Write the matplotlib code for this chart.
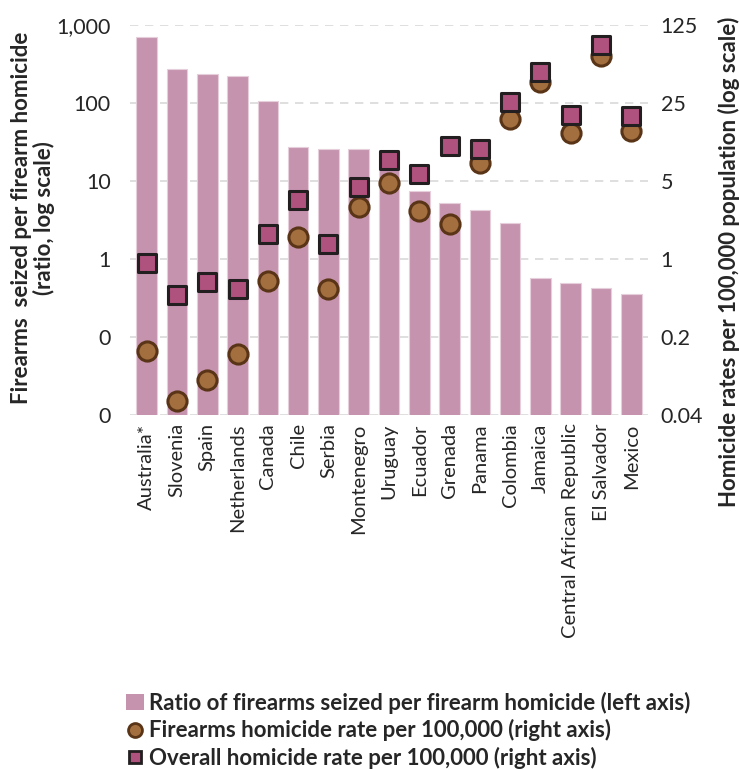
import matplotlib
matplotlib.use("Agg")
import matplotlib.pyplot as plt
from matplotlib.patches import Patch
from matplotlib.lines import Line2D
from matplotlib.ticker import FixedLocator, FixedFormatter, NullLocator

plt.rcParams["font.family"] = ["Lato", "DejaVu Sans"]

COUNTRIES = ["Australia*", "Slovenia", "Spain", "Netherlands", "Canada", "Chile",
             "Serbia", "Montenegro", "Uruguay", "Ecuador", "Grenada", "Panama",
             "Colombia", "Jamaica", "Central African Republic", "El Salvador", "Mexico"]

# firearms seized per firearm homicide (left axis)
SEIZED_RATIO = [695, 270, 234, 222, 107, 27, 26, 26, 23.8, 7.4, 5.3, 4.2,
                2.9, 0.575, 0.49, 0.42, 0.356]

# homicide rates per 100,000 (right axis)
FIREARM_RATE = [0.151, 0.053, 0.082, 0.14, 0.64, 1.58, 0.54, 2.94, 4.8, 2.71,
                2.05, 7.3, 18, 38.7, 13.6, 65.9, 14]
OVERALL_RATE = [0.93, 0.48, 0.62, 0.54, 1.67, 3.4, 1.37, 4.4, 7.7, 5.8,
                10.3, 9.7, 25.5, 47, 19.6, 82.7, 19]

LEFT_TICKS = [0.01, 0.1, 1, 10, 100, 1000]
LEFT_LABELS = ["0", "0", "1", "10", "100", "1,000"]
RIGHT_TICKS = [0.04, 0.2, 1, 5, 25, 125]
RIGHT_LABELS = ["0.04", "0.2", "1", "5", "25", "125"]

BAR_COLOR = "#C693AF"
CIRCLE_FACE = "#A36F3F"
CIRCLE_EDGE = "#5A3416"
SQUARE_FACE = "#B0527E"
SQUARE_EDGE = "#231F20"
TEXT_COLOR = "#262626"

fig = plt.figure(figsize=(7.4, 7.69), dpi=100)
ax = fig.add_axes([0.1757, 0.4603, 0.7, 0.5072])
x = list(range(len(COUNTRIES)))

ax.bar(x, SEIZED_RATIO, width=0.68, color=BAR_COLOR, edgecolor="#E6CFDB",
       linewidth=0.8, zorder=2)
ax.set_yscale("log")
ax.set_ylim(0.01, 1000)
ax.set_xlim(-0.55, len(COUNTRIES) - 0.45)
ax.yaxis.set_major_locator(FixedLocator(LEFT_TICKS))
ax.yaxis.set_major_formatter(FixedFormatter(LEFT_LABELS))
ax.yaxis.set_minor_locator(NullLocator())
ax.grid(axis="y", color="#D9D9D9", linestyle=(0, (5, 4)), linewidth=1.2, zorder=0)
ax.set_axisbelow(True)
ax.set_xticks(x)
ax.set_xticklabels(COUNTRIES, rotation=90, fontsize=14.5, color=TEXT_COLOR)
ax.tick_params(axis="y", labelsize=15.5, labelcolor=TEXT_COLOR, length=0, pad=14)
ax.tick_params(axis="x", length=0, pad=6)
for s in ax.spines.values():
    s.set_visible(False)

ax2 = ax.twinx()
ax2.set_yscale("log")
ax2.set_ylim(0.04, 125)
ax2.yaxis.set_major_locator(FixedLocator(RIGHT_TICKS))
ax2.yaxis.set_major_formatter(FixedFormatter(RIGHT_LABELS))
ax2.yaxis.set_minor_locator(NullLocator())
ax2.tick_params(axis="y", labelsize=15.5, labelcolor=TEXT_COLOR, length=0, pad=9)
for s in ax2.spines.values():
    s.set_visible(False)

ax2.scatter(x, FIREARM_RATE, s=190, marker="o", facecolor=CIRCLE_FACE,
            edgecolor=CIRCLE_EDGE, linewidth=2.2, zorder=3)
ax2.scatter(x, OVERALL_RATE, s=150, marker="s", facecolor=SQUARE_FACE,
            edgecolor=SQUARE_EDGE, linewidth=2.2, zorder=4)

fig.text(0.045, 0.717, "Firearms  seized per firearm homicide\n(ratio, log scale)",
         rotation=90, ha="center", va="center", fontsize=16, fontweight="bold",
         color=TEXT_COLOR, linespacing=1.05)
fig.text(0.985, 0.659, "Homicide rates per 100,000 population (log scale)",
         rotation=90, ha="center", va="center", fontsize=16, fontweight="bold",
         color=TEXT_COLOR)

handles = [
    Patch(facecolor=BAR_COLOR, edgecolor="none"),
    Line2D([], [], marker="o", linestyle="none", markersize=10,
           markerfacecolor=CIRCLE_FACE, markeredgecolor=CIRCLE_EDGE, markeredgewidth=2),
    Line2D([], [], marker="s", linestyle="none", markersize=9,
           markerfacecolor=SQUARE_FACE, markeredgecolor=SQUARE_EDGE, markeredgewidth=2),
]
labels = ["Ratio of firearms seized per firearm homicide (left axis)",
          "Firearms homicide rate per 100,000 (right axis)",
          "Overall homicide rate per 100,000 (right axis)"]
leg = fig.legend(handles, labels, loc="upper left", bbox_to_anchor=(0.158, 0.112),
                 frameon=False, handlelength=0.8, handletextpad=0.25,
                 labelspacing=0.25, borderaxespad=0,
                 prop={"size": 16, "weight": "bold"})
for t in leg.get_texts():
    t.set_color(TEXT_COLOR)

fig.savefig("out.png", dpi=100)
